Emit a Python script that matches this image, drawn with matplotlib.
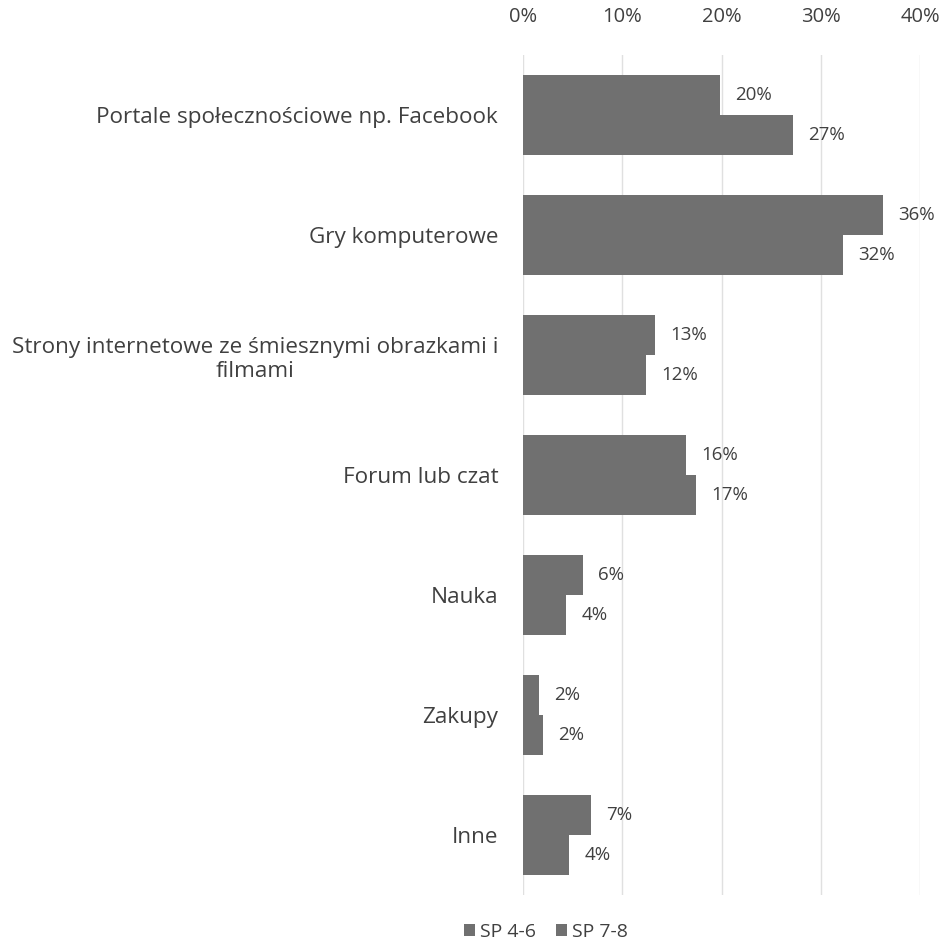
import numpy as np
import matplotlib.pyplot as plt

# dane
kategorie = [
    "Portale społecznościowe np. Facebook",
    "Gry komputerowe",
    "Strony internetowe ze śmiesznymi obrazkami i\nfilmami",
    "Forum lub czat",
    "Nauka",
    "Zakupy",
    "Inne",
]
sp_4_6 = [19.8, 36.2, 13.3, 16.4, 6.0, 1.6, 6.8]
sp_7_8 = [27.2, 32.2, 12.4, 17.4, 4.3, 2.0, 4.6]
etykiety_4_6 = ["20%", "36%", "13%", "16%", "6%", "2%", "7%"]
etykiety_7_8 = ["27%", "32%", "12%", "17%", "4%", "2%", "4%"]
serie = ["SP 4-6", "SP 7-8"]
ticki = [0, 10, 20, 30, 40]

plt.rcParams['font.family'] = ['Open Sans', 'DejaVu Sans']

fig = plt.figure(figsize=(9.41, 9.5), dpi=100)
ax = fig.add_axes([0.556, 0.058, 0.422, 0.884])

y = np.arange(len(kategorie))
h = 0.335
kolor = "#707070"

b1 = ax.barh(y - h / 2, sp_4_6, height=h, color=kolor, label=serie[0], zorder=2)
b2 = ax.barh(y + h / 2, sp_7_8, height=h, color=kolor, label=serie[1], zorder=2)

for bars, labs in ((b1, etykiety_4_6), (b2, etykiety_7_8)):
    for bar, lab in zip(bars, labs):
        ax.annotate(lab, (bar.get_width(), bar.get_y() + bar.get_height() / 2),
                    xytext=(11, 0), textcoords="offset points",
                    va="center", ha="left", fontsize=13.5, color="#404040")

ax.set_xlim(0, 40)
ax.set_ylim(len(kategorie) - 0.5, -0.5)
ax.set_xticks(ticks=ticki, labels=[f"{t}%" for t in ticki])
ax.xaxis.tick_top()
ax.tick_params(axis="x", length=0, pad=20, labelsize=14.5, labelcolor="#404040")
ax.set_yticks(y, kategorie)
ax.tick_params(axis="y", length=0, pad=18, labelsize=16.2, labelcolor="#404040")
for lab in ax.get_yticklabels():
    lab.set_horizontalalignment("right")
    lab.set_multialignment("center")
ax.grid(axis="x", color="#e0e0e0", linewidth=1, zorder=0)
for s in ax.spines.values():
    s.set_visible(False)

fig.legend(handles=[b1, b2], loc="center", bbox_to_anchor=(0.58, 0.019), ncol=2,
           frameon=False, fontsize=14, handlelength=0.6, handleheight=0.6,
           handletextpad=0.25, columnspacing=1.0, labelcolor="#404040")

fig.savefig("out.png", dpi=100)
